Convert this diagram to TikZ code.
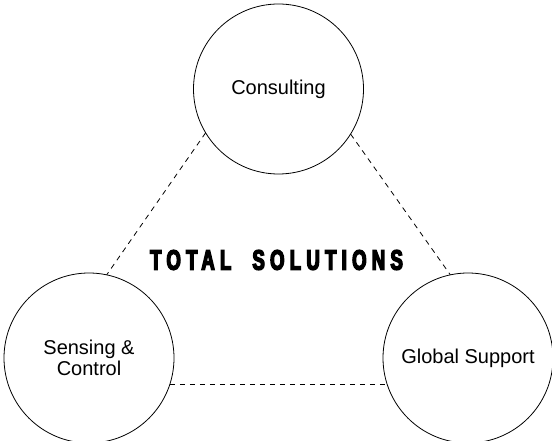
\documentclass[tikz,border=0pt]{standalone}
\usepackage{fontspec}
\setmainfont{Liberation Sans}
\newfontfamily\bannerfont[FakeStretch=0.66, FakeBold=5, LetterSpace=19]{Liberation Sans Bold}
\tikzset{%
  % Specifications for style of nodes:
          hub/.style = {circle, draw=black, line width=0.6pt,
                        minimum size=127.5pt, inner sep=0pt, outer sep=0pt,
                        align=center, font=\fontsize{15}{15.8}\selectfont},
       banner/.style = {font=\bannerfont\fontsize{21}{21}\selectfont},
         link/.style = {draw=black, line width=0.6pt, dash pattern=on 4pt off 3.5pt},
}
\begin{document}
\begin{tikzpicture}[x=0.75pt, y=-0.75pt]
  \useasboundingbox (0,0) rectangle (552,441);
  % Specification of nodes (position, etc.)

  \node (consulting) [hub] at (278.5,89)  {Consulting};
  \node (sensing)    [hub] at (89,358)    {Sensing \&\\Control};
  \node (support)    [hub] at (468,358)   {Global Support};
  \node (title)      [banner] at (276.5,260) {TOTAL\hspace{8pt} SOLUTIONS};

  \draw[link] (consulting.211.4) -- (sensing.78);
  \draw[link] (consulting.328.8) -- (support.102.6);
  \draw[link] (sensing.-18.5)    -- (support.198.5);

\end{tikzpicture}
\end{document}
